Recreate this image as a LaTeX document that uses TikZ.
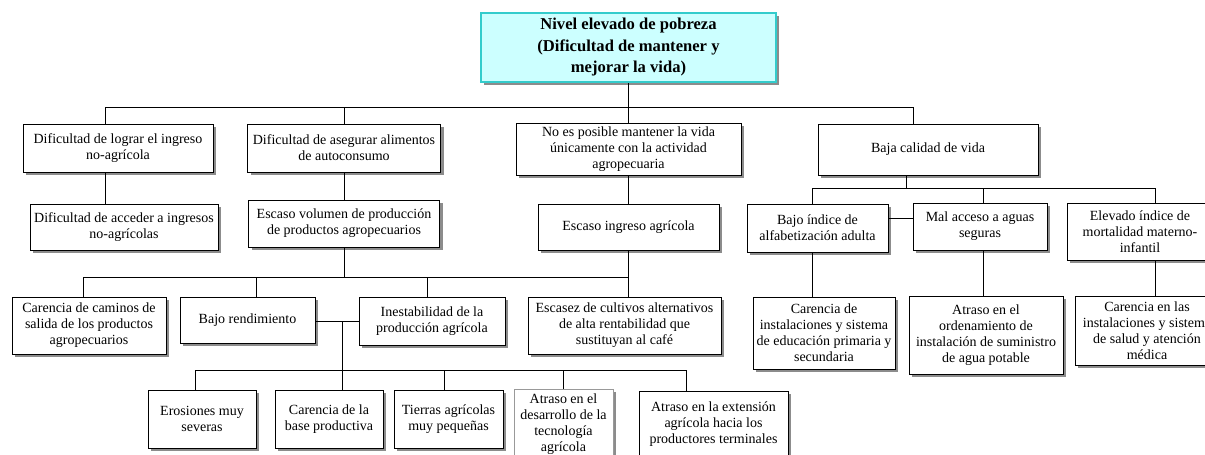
\documentclass[tikz,border=0pt]{standalone}
\usepackage{fontspec}
\setmainfont{Liberation Serif}
\usetikzlibrary{shadows}
\definecolor{topfill}{HTML}{CCFFFF}
\definecolor{topline}{HTML}{33CCCC}
\tikzset{
  box/.style={draw, line width=1pt, fill=white, align=center, inner sep=1pt,
    font=\fontsize{14}{16}\selectfont,
    drop shadow={shadow xshift=3pt, shadow yshift=-3pt, fill=black!45, opacity=1}},
  topbox/.style={box, fill=topfill, draw=topline, line width=2pt,
    font=\fontsize{16.6}{21.5}\selectfont\bfseries},
  wire/.style={line width=0.9pt},
}
\begin{document}
\begin{tikzpicture}[x=1pt,y=-1pt]
    \path[use as bounding box, clip] (0,0) rectangle (1205,455);
    \node[topbox, minimum width=295, minimum height=69] (top) at (628.5,47.5)
      {Nivel elevado de pobreza\\(Dificultad de mantener y\\mejorar la vida)};
    \node[box, minimum width=190, minimum height=48] (A) at (118,148)
      {Dificultad de lograr el ingreso\\no-agrícola};
    \node[box, minimum width=193, minimum height=48] (B) at (344,148)
      {Dificultad de asegurar alimentos\\de autoconsumo};
    \node[box, minimum width=225, minimum height=52] (C) at (628.5,149)
      {No es posible mantener la vida\\únicamente con la actividad\\agropecuaria};
    \node[box, minimum width=220, minimum height=51] (D) at (928,149.5)
      {Baja calidad de vida};
    \node[box, minimum width=188, minimum height=46] (A2) at (124,227)
      {Dificultad de acceder a ingresos\\no-agrícolas};
    \node[box, minimum width=191, minimum height=47] (B2) at (344,223.5)
      {Escaso volumen de producción\\de productos agropecuarios};
    \node[box, minimum width=181, minimum height=46] (C2) at (628.5,227)
      {Escaso ingreso agrícola};
    \node[box, minimum width=141, minimum height=48] (D1) at (817.5,228)
      {Bajo índice de\\alfabetización adulta};
    \node[box, minimum width=134, minimum height=47] (D2) at (980,226.5)
      {Mal acceso a aguas\\seguras};
    \node[box, minimum width=146, minimum height=57] (D3) at (1140,231.5)
      {Elevado índice de\\mortalidad materno-\\infantil};
    \node[box, minimum width=154, minimum height=57] (E1) at (89,325.5)
      {Carencia de caminos de\\salida de los productos\\agropecuarios};
    \node[box, minimum width=135, minimum height=46] (E2) at (247.5,320)
      {Bajo rendimiento};
    \node[box, minimum width=146, minimum height=48] (E3) at (432,321)
      {Inestabilidad de la\\producción agrícola};
    \node[box, minimum width=193, minimum height=57] (E4) at (624.5,325.5)
      {Escasez de cultivos alternativos\\de alta rentabilidad que\\sustituyan al café};
    \node[box, minimum width=108, minimum height=58] (F1) at (202,419)
      {Erosiones muy\\severas};
    \node[box, minimum width=108, minimum height=58] (F2) at (329,419)
      {Carencia de la\\base productiva};
    \node[box, minimum width=109, minimum height=58] (F3) at (448.5,419)
      {Tierras agrícolas\\muy pequeñas};
    \node[box, draw=black!40, minimum width=99, minimum height=71] (F4) at (563.5,424.5)
      {Atraso en el\\desarrollo de la\\tecnología\\agrícola};
    \node[box, minimum width=149, minimum height=66] (F5) at (713.5,424)
      {Atraso en la extensión\\agrícola hacia los\\productores terminales};
    \node[box, minimum width=142, minimum height=72] (G1) at (824,333)
      {Carencia de\\instalaciones y sistema\\de educación primaria y\\secundaria};
    \node[box, minimum width=154, minimum height=78] (G2) at (986,335)
      {Atraso en el\\ordenamiento de\\instalación de suministro\\de agua potable};
    \node[box, minimum width=144, minimum height=69] (G3) at (1147,330.5)
      {Carencia en las\\instalaciones y sistema\\de salud y atención\\médica};

    \coordinate (b1L) at (105,107);
    \coordinate (b1R) at (913,107);
    \draw[wire] (top) -- (C);
    \draw[wire] (b1L |- A.north) -- (b1L) -- (b1R) -- (b1R |- D.north);
    \draw[wire] (B) -- (B |- b1L);
    \draw[wire] (b1L |- A.south) -- (b1L |- A2.north);
    \draw[wire] (B) -- (B2);
    \draw[wire] (C) -- (C2);

    \coordinate (b2L) at (83,277);
    \coordinate (b2R) at (628.5,277);
    \coordinate (b2a) at (256,277);
    \coordinate (b2b) at (427,277);
    \draw[wire] (B2) -- (B2 |- b2L);
    \draw[wire] (C2) -- (b2R);
    \draw[wire] (b2L |- E1.north) -- (b2L) -- (b2R) -- (b2R |- E4.north);
    \draw[wire] (b2a) -- (b2a |- E2.north);
    \draw[wire] (b2b) -- (b2b |- E3.north);

    \coordinate (k) at (342,321);
    \coordinate (b4L) at (195,370);
    \coordinate (b4R) at (686,370);
    \coordinate (b4a) at (444,370);
    \coordinate (b4b) at (563.5,370);
    \draw[wire] (k -| E2.east) -- (k -| E3.west);
    \draw[wire] (k) -- (k |- F2.north);
    \draw[wire] (b4L |- F1.north) -- (b4L) -- (b4R) -- (b4R |- F5.north);
    \draw[wire] (b4a) -- (b4a |- F3.north);
    \draw[wire] (b4b) -- (F4);

    \coordinate (b3) at (906,188);
    \coordinate (b3L) at (812,188);
    \coordinate (b3M) at (983,188);
    \coordinate (b3R) at (1155,188);
    \coordinate (lk) at (900,218);
    \draw[wire] (b3 |- D.south) -- (b3);
    \draw[wire] (b3L |- D1.north) -- (b3L) -- (b3R) -- (b3R |- D3.north);
    \draw[wire] (b3M) -- (b3M |- D2.north);
    \draw[wire] (b3L |- D1.south) -- (b3L |- G1.north);
    \draw[wire] (b3M |- D2.south) -- (b3M |- G2.north);
    \draw[wire] (b3R |- D3.south) -- (b3R |- G3.north);
    \draw[wire] (lk -| D1.east) -- (lk -| D2.west);
\end{tikzpicture}
\end{document}
